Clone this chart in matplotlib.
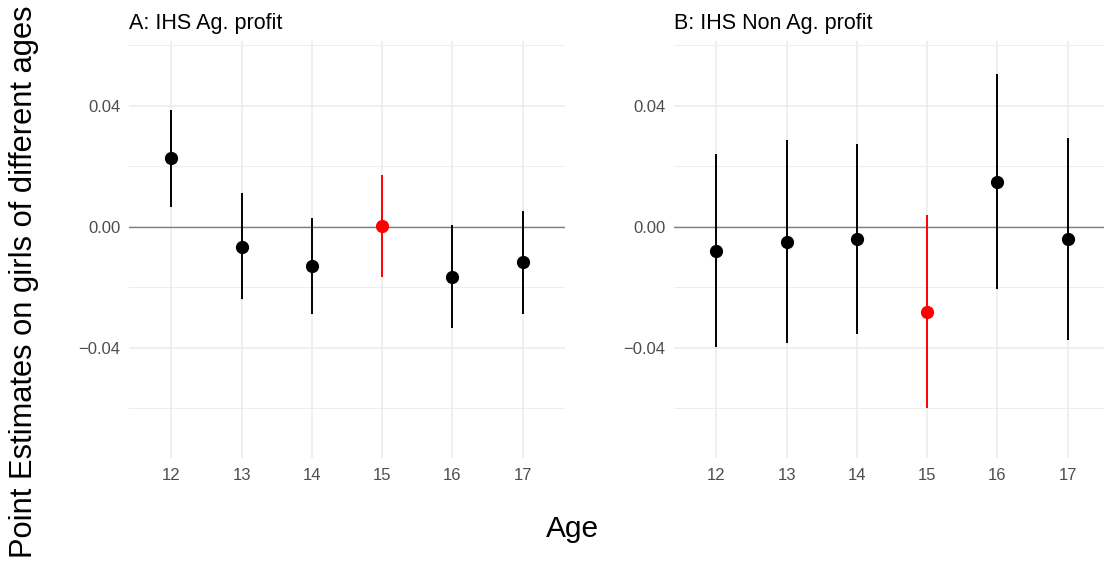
import matplotlib
matplotlib.use("Agg")
import matplotlib.pyplot as plt
from matplotlib.ticker import FixedLocator

plt.rcParams["font.family"] = ["Liberation Sans", "DejaVu Sans"]

# Ages on the x axis
ages = [12, 13, 14, 15, 16, 17]

# Panel A: IHS Ag. profit
ag_est = [0.0226, -0.0066, -0.0129, 0.0002, -0.0165, -0.0118]
ag_lo = [0.0066, -0.0240, -0.0289, -0.0166, -0.0334, -0.0289]
ag_hi = [0.0386, 0.0110, 0.0030, 0.0171, 0.0004, 0.0051]

# Panel B: IHS Non Ag. profit
nonag_est = [-0.0079, -0.0050, -0.0041, -0.0282, 0.0149, -0.0042]
nonag_lo = [-0.0399, -0.0386, -0.0356, -0.0601, -0.0205, -0.0376]
nonag_hi = [0.0241, 0.0287, 0.0274, 0.0039, 0.0504, 0.0292]

panel_titles = ["A: IHS Ag. profit", "B: IHS Non Ag. profit"]
highlight_age = 15

W, H = 1104, 567
fig = plt.figure(figsize=(W / 100, H / 100), dpi=100)

def px_axes(left, top, right, bottom):
    return fig.add_axes([left / W, 1 - bottom / H, (right - left) / W, (bottom - top) / H])

axes = [px_axes(129, 41, 565, 458), px_axes(674, 41, 1110, 458)]
series = [(ag_est, ag_lo, ag_hi), (nonag_est, nonag_lo, nonag_hi)]

grid_col = "#EBEBEB"
for ax, (est, lo, hi), title in zip(axes, series, panel_titles):
    pos = list(range(len(ages)))
    ax.set_xlim(-0.6, len(ages) - 1 + 0.6)
    ax.set_ylim(-0.0765, 0.0614)
    for s in ax.spines.values():
        s.set_visible(False)
    ax.yaxis.set_major_locator(FixedLocator([-0.04, 0.0, 0.04]))
    ax.yaxis.set_minor_locator(FixedLocator([-0.06, -0.02, 0.02, 0.06]))
    ax.set_yticklabels(["\u22120.04", "0.00", "0.04"])
    ax.set_xticks(pos)
    ax.set_xticklabels([str(a) for a in ages])
    ax.tick_params(axis="both", which="both", length=0, labelsize=12, colors="#4D4D4D")
    ax.tick_params(axis="y", pad=6)
    ax.tick_params(axis="x", pad=7)
    ax.grid(True, which="major", color=grid_col, linewidth=1.1)
    ax.grid(True, which="minor", axis="y", color=grid_col, linewidth=0.6)
    ax.set_axisbelow(True)
    ax.axhline(0, color="#7F7F7F", linewidth=1.0, zorder=1)
    for p, a, e, l, h in zip(pos, ages, est, lo, hi):
        c = "#FF0000" if a == highlight_age else "black"
        ax.plot([p, p], [l, h], color=c, linewidth=1.4, solid_capstyle="butt", zorder=3)
        ax.plot([p], [e], "o", color=c, markersize=8.5, zorder=4)
    ax.text(0, 1.0 + 12 / 417, title, transform=ax.transAxes, ha="left", va="baseline",
            fontsize=15.5, color="black")

fig.text(573 / W, 1 - 537 / H, "Age", ha="center", va="baseline", fontsize=21.5)
fig.text(24 / W, 1 - 282 / H, "Point Estimates on girls of different ages", rotation=90,
         ha="center", va="center", fontsize=22.2)

fig.savefig("out.png", dpi=100)
